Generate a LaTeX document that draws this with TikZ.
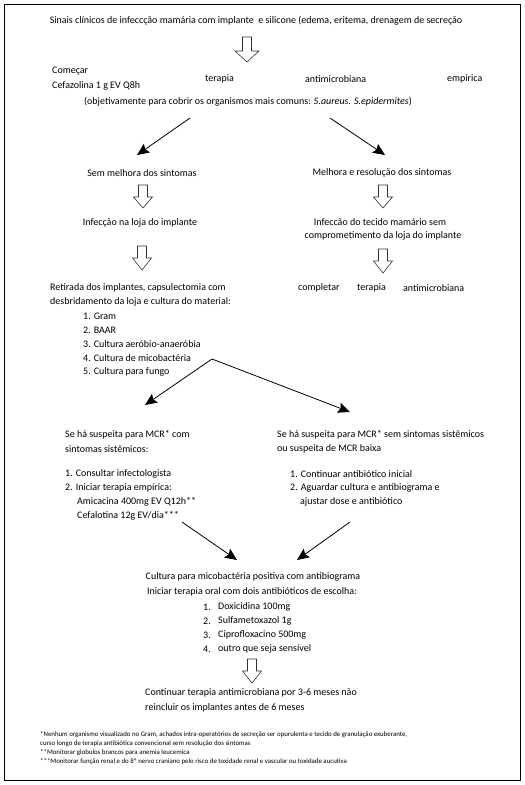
\documentclass[tikz,border=0pt]{standalone}
\usepackage{fontspec}
\setmainfont{Carlito}
\usetikzlibrary{arrows.meta}
\newcommand{\harrow}[6]{% x, ytop, yhead, ybottom, shaft hw, head hw
  \draw[hollow] (#1-#5,#2) -- (#1+#5,#2) -- (#1+#5,#3) -- (#1+#6,#3) -- (#1,#4) -- (#1-#6,#3) -- (#1-#5,#3) -- cycle;}
\begin{document}
\begin{tikzpicture}[x=1pt,y=-1pt,
  txt/.style={inner sep=0pt,font=\fontsize{10}{12}\selectfont,anchor=west},
  ctxt/.style={inner sep=0pt,font=\fontsize{10}{12}\selectfont,anchor=center},
  foot/.style={inner sep=0pt,font=\fontsize{6.85}{8}\selectfont,anchor=west},
  hollow/.style={draw=black!80,line width=0.6pt,fill=white},
  blk/.style={draw=black,line width=0.8pt,-{Stealth[length=12pt,width=10.5pt,inset=2pt]}}]
\useasboundingbox (0,0) rectangle (525,785);
\draw[line width=0.9pt] (4.5,4.5) rectangle (520,780);
% top
\node[ctxt] (title) at (256,21) {Sinais clínicos de infeccção mamária com implante\ \ e silicone (edema, eritema, drenagem de secreção};
\harrow{247}{37}{51}{62}{4.5}{12}
\node[txt] (comecar) at (52,71) {Começar};
\node[txt] (cefaz) at (52,86) {Cefazolina 1 g EV Q8h};
\node[txt] (ter1) at (205,79) {terapia};
\node[txt] (anti1) at (305,79) {antimicrobiana};
\node[txt] (emp1) at (447,79) {empirica};
\node[ctxt] (objet) at (248,102) {(objetivamente para cobrir os organismos mais comuns: \textit{S.aureus. S.epidermites})};
\coordinate (a1s) at (190,118);
\coordinate (a2s) at (330,118);
\node[ctxt] (sem) at (142,173) {Sem melhora dos sintomas};
\node[ctxt] (melh) at (382,173) {Melhora e resolução dos sintomas};
\coordinate (a1e) at (137,155);
\coordinate (a2e) at (385,155);
\draw[blk] (a1s) -- (a1e);
\draw[blk] (a2s) -- (a2e);
\harrow{143}{185}{197}{208}{4.5}{9.5}
\harrow{383}{185}{197}{208}{4.5}{9.5}
\node[ctxt] (loja) at (140,223) {Infecção na loja do implante};
\node[ctxt] (tec1) at (380,222) {Infeccão do tecido mamário sem};
\node[ctxt] (tec2) at (383,236) {comprometimento da loja do implante};
\harrow{142}{246}{258}{270}{4.5}{9.5}
\harrow{383}{249}{261}{273}{4.5}{9.5}
\node[txt] (compl) at (298,288) {completar};
\node[txt] (ter2) at (357,288) {terapia};
\node[txt] (anti2) at (403,288) {antimicrobiana};
\node[txt] (ret1) at (50,288) {Retirada dos implantes, capsulectomia com};
\node[txt] (ret2) at (50,302) {desbridamento da loja e cultura do material:};
\node[txt] (l1) at (83,316) {1. Gram};
\node[txt] (l2) at (83,330) {2. BAAR};
\node[txt] (l3) at (83,344) {3. Cultura aeróbio-anaeróbia};
\node[txt] (l4) at (83,358) {4. Cultura de micobactéria};
\node[txt] (l5) at (83,372) {5. Cultura para fungo};
\coordinate (b0) at (212,359);
\coordinate (b1) at (145,405);
\coordinate (b2) at (350,412);
\draw[blk] (b0) -- (b1);
\draw[blk] (b0) -- (b2);
% middle
\node[txt] (se1) at (65,435) {Se há suspeita para MCR* com};
\node[txt] (se1b) at (65,449) {sintomas sistêmicos:};
\node[txt] (se2) at (277,435) {Se há suspeita para MCR* sem sintomas sistêmicos};
\node[txt] (se2b) at (277,449) {ou suspeita de MCR baixa};
\node[txt] (c1) at (65,474) {1. Consultar infectologista};
\node[txt] (c2) at (65,488) {2. Iniciar terapia empírica:};
\node[txt] (c3) at (77,502) {Amicacina 400mg EV Q12h**};
\node[txt] (c4) at (77,516) {Cefalotina 12g EV/dia***};
\node[txt] (r1) at (290,474) {1. Continuar antibiótico inicial};
\node[txt] (r2) at (290,488) {2. Aguardar cultura e antibiograma e};
\node[txt] (r3) at (300,502) {ajustar dose e antibiótico};
\coordinate (d1s) at (182,522);
\coordinate (d1e) at (237,560);
\coordinate (d2s) at (350,522);
\coordinate (d2e) at (297,560);
\draw[blk] (d1s) -- (d1e);
\draw[blk] (d2s) -- (d2e);
% bottom
\node[ctxt] (cult) at (253,577) {Cultura para micobactéria positiva com antibiograma};
\node[ctxt] (inic) at (252,592) {Iniciar terapia oral com dois antibióticos de escolha:};
\node[txt] (n1) at (203,607) {1.};
\node[txt] (m1) at (218,607) {Doxicidina 100mg};
\node[txt] (n2) at (203,621) {2.};
\node[txt] (m2) at (218,621) {Sulfametoxazol 1g};
\node[txt] (n3) at (203,635) {3.};
\node[txt] (m3) at (218,635) {Ciprofloxacino 500mg};
\node[txt] (n4) at (203,649) {4.};
\node[txt] (m4) at (218,649) {outro que seja sensível};
\harrow{252}{659}{671}{683}{4.5}{9.5}
\node[txt] (cont1) at (145,693) {Continuar terapia antimicrobiana por 3-6 meses não};
\node[txt] (cont2) at (145,708) {reincluir os implantes antes de 6 meses};
\node[foot] (f1) at (40,735) {*Nenhum organismo visualizado no Gram, achados intra-operatórios de secreção ser opurulenta e tecido de granulação exuberante,};
\node[foot] (f2) at (40,744) {curso longo de terapia antibiótica convencional sem resolução dos sintomas};
\node[foot] (f3) at (40,753) {**Monitorar globulos brancos para anemia leucemica};
\node[foot] (f4) at (40,762) {***Monitorar função renal e do 8º nervo craniano pelo risco de toxidade renal e vascular ou toxidade aucutiva};
\end{tikzpicture}
\end{document}
